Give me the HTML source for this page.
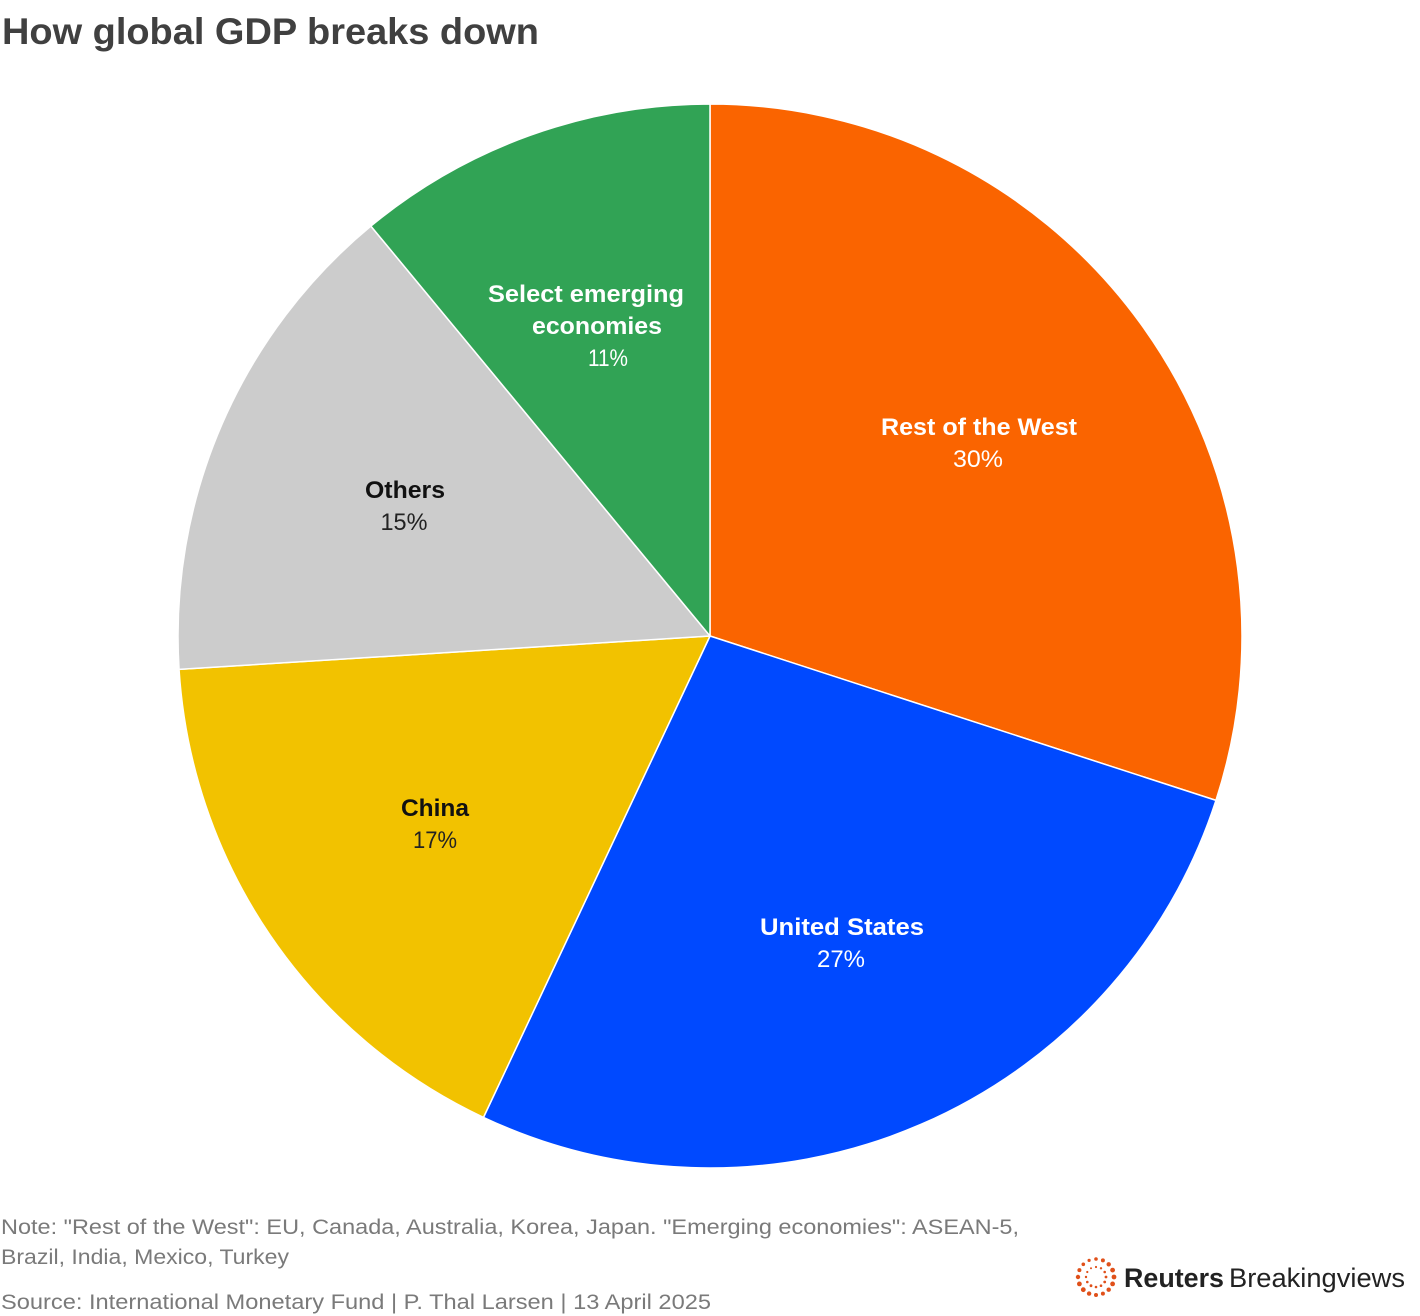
<!DOCTYPE html>
<html>
<head>
<meta charset="utf-8">
<style>
  html, body { margin: 0; padding: 0; background: #ffffff; }
  svg { display: block; }
  text { font-family: "Liberation Sans", "DejaVu Sans", sans-serif; }
</style>
</head>
<body>
<svg width="1420" height="1316" viewBox="0 0 1420 1316" xmlns="http://www.w3.org/2000/svg">
  <rect x="0" y="0" width="1420" height="1316" fill="#ffffff"/>

  <!-- Title -->
  <text x="2" y="44" font-size="37" font-weight="bold" fill="#404040" textLength="537" lengthAdjust="spacingAndGlyphs">How global GDP breaks down</text>

  <!-- Pie: center (710,636), r=532 -->
  <g stroke="#ffffff" stroke-width="1.5" stroke-linejoin="round">
    <path d="M710,636 L710,104 A532,532 0 0 1 1215.96,800.40 Z" fill="#FA6400"/>
    <path d="M710,636 L1215.96,800.40 A532,532 0 0 1 483.48,1117.37 Z" fill="#0049FF"/>
    <path d="M710,636 L483.48,1117.37 A532,532 0 0 1 179.05,669.40 Z" fill="#F2C200"/>
    <path d="M710,636 L179.05,669.40 A532,532 0 0 1 370.89,226.09 Z" fill="#CCCCCC"/>
    <path d="M710,636 L370.89,226.09 A532,532 0 0 1 710,104 Z" fill="#31A355"/>
  </g>

  <!-- Labels -->
  <g font-size="24">
    <!-- Rest of the West -->
    <text x="881" y="435" font-weight="bold" fill="#ffffff" textLength="196" lengthAdjust="spacingAndGlyphs">Rest of the West</text>
    <text x="978" y="467" fill="#ffffff" text-anchor="middle" textLength="50" lengthAdjust="spacingAndGlyphs">30%</text>

    <!-- United States -->
    <text x="760" y="935" font-weight="bold" fill="#ffffff" textLength="164" lengthAdjust="spacingAndGlyphs">United States</text>
    <text x="841" y="967" fill="#ffffff" text-anchor="middle" textLength="48" lengthAdjust="spacingAndGlyphs">27%</text>

    <!-- China -->
    <text x="401" y="816" font-weight="bold" fill="#111111" textLength="68" lengthAdjust="spacingAndGlyphs">China</text>
    <text x="435" y="848" fill="#222222" text-anchor="middle" textLength="44" lengthAdjust="spacingAndGlyphs">17%</text>

    <!-- Others -->
    <text x="365" y="498" font-weight="bold" fill="#111111" textLength="80" lengthAdjust="spacingAndGlyphs">Others</text>
    <text x="404" y="530" fill="#222222" text-anchor="middle" textLength="47" lengthAdjust="spacingAndGlyphs">15%</text>

    <!-- Select emerging economies -->
    <text x="488" y="302" font-weight="bold" fill="#ffffff" textLength="196" lengthAdjust="spacingAndGlyphs">Select emerging</text>
    <text x="532" y="334" font-weight="bold" fill="#ffffff" textLength="130" lengthAdjust="spacingAndGlyphs">economies</text>
    <text x="608" y="366" fill="#ffffff" text-anchor="middle" textLength="40" lengthAdjust="spacingAndGlyphs">11%</text>
  </g>

  <!-- Footer notes -->
  <g font-size="21" fill="#7a7a7a">
    <text x="1" y="1234" textLength="1018" lengthAdjust="spacingAndGlyphs">Note: "Rest of the West": EU, Canada, Australia, Korea, Japan. "Emerging economies": ASEAN-5,</text>
    <text x="1" y="1264" textLength="288" lengthAdjust="spacingAndGlyphs">Brazil, India, Mexico, Turkey</text>
    <text x="1" y="1309" textLength="710" lengthAdjust="spacingAndGlyphs">Source: International Monetary Fund | P. Thal Larsen | 13 April 2025</text>
  </g>

  <!-- Reuters Breakingviews logo -->
  <g fill="#E0501A">
    <!-- outer ring -->
    <circle cx="1096" cy="1259" r="1.8"/>
    <circle cx="1102.9" cy="1260.4" r="2.0"/>
    <circle cx="1108.7" cy="1264.3" r="2.2"/>
    <circle cx="1112.6" cy="1270.1" r="2.4"/>
    <circle cx="1114" cy="1277" r="2.4"/>
    <circle cx="1112.6" cy="1283.9" r="2.4"/>
    <circle cx="1108.7" cy="1289.7" r="2.2"/>
    <circle cx="1102.9" cy="1293.6" r="2.0"/>
    <circle cx="1096" cy="1295" r="2.0"/>
    <circle cx="1089.1" cy="1293.6" r="2.2"/>
    <circle cx="1083.3" cy="1289.7" r="2.4"/>
    <circle cx="1079.4" cy="1283.9" r="2.4"/>
    <circle cx="1078" cy="1277" r="2.2"/>
    <circle cx="1079.4" cy="1270.1" r="2.0"/>
    <circle cx="1083.3" cy="1264.3" r="1.8"/>
    <circle cx="1089.1" cy="1260.4" r="1.6"/>
    <!-- inner ring -->
    <circle cx="1096" cy="1267" r="1.1"/>
    <circle cx="1101" cy="1268.3" r="1.2"/>
    <circle cx="1104.7" cy="1272" r="1.3"/>
    <circle cx="1106" cy="1277" r="1.4"/>
    <circle cx="1104.7" cy="1282" r="1.4"/>
    <circle cx="1101" cy="1285.7" r="1.3"/>
    <circle cx="1096" cy="1287" r="1.3"/>
    <circle cx="1091" cy="1285.7" r="1.4"/>
    <circle cx="1087.3" cy="1282" r="1.3"/>
    <circle cx="1086" cy="1277" r="1.2"/>
    <circle cx="1087.3" cy="1272" r="1.1"/>
    <circle cx="1091" cy="1268.3" r="1.0"/>
  </g>
  <text x="1124" y="1287" font-size="27" font-weight="bold" fill="#222222" textLength="100" lengthAdjust="spacingAndGlyphs">Reuters</text>
  <text x="1229" y="1287" font-size="27" fill="#222222" textLength="176" lengthAdjust="spacingAndGlyphs">Breakingviews</text>
</svg>
</body>
</html>
